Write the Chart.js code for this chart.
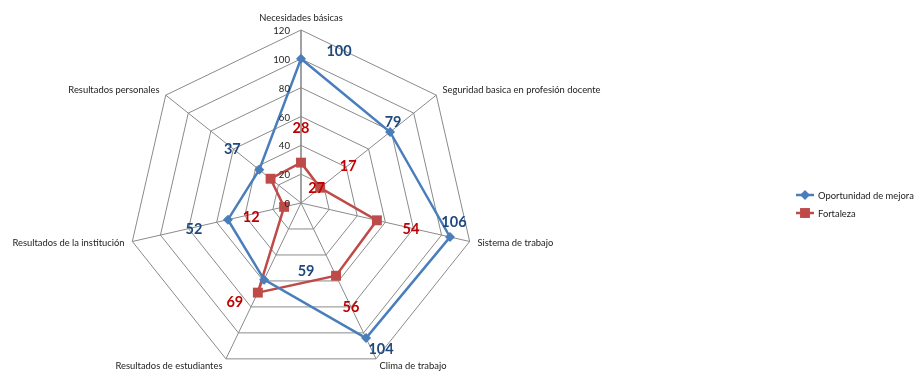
<!DOCTYPE html>
<html>
<head>
<meta charset="utf-8">
<script src="https://cdn.jsdelivr.net/npm/chart.js@4.4.1/dist/chart.umd.min.js"></script>
<style>
  html, body { margin: 0; padding: 0; background: #fff; overflow: hidden; width: 919px; height: 375px; }
  canvas { display: block; }
</style>
</head>
<body>
<canvas id="chart" width="919" height="420"></canvas>
<script>
const categories = ['Necesidades básicas', 'Seguridad basica en profesión docente', 'Sistema de trabajo',
    'Clima de trabajo', 'Resultados de estudiantes', 'Resultados de la institución', 'Resultados personales'];
const oportunidad = [100, 79, 106, 104, 59, 52, 37];
const fortaleza = [28, 17, 54, 56, 69, 12, 27];
const tickValues = [0, 20, 40, 60, 80, 100, 120];
const seriesNames = ['Oportunidad de mejora', 'Fortaleza'];

const FONT = 'Lato, "Open Sans", sans-serif';
const BLUE = '#4A7EBB';
const RED = '#BE4B48';

// where Excel put each data label, relative to its point
const labelShift = [
    [[38, -8], [3, -10], [4, -15], [15, 11], [42, -8], [-34, 10], [-27, -20]],
    [[0, -34], [28, -21], [34, 9], [15, 32], [-23, 10], [-33, 10], [46, 10]]
];
const labelColor = ['#1F497D', '#C00000'];

// Draws axis texts, value labels and the legend
const textPlugin = {
    id: 'texts',
    afterDatasetsDraw(chart) {
        const ctx = chart.ctx;
        const r = chart.scales.r;
        ctx.save();

        // value ticks along the first axis
        ctx.font = '9.6px ' + FONT;
        ctx.fillStyle = '#222';
        ctx.textAlign = 'right';
        ctx.textBaseline = 'middle';
        r.ticks.forEach(t => {
            const p = r.getPointPositionForValue(0, t.value);
            ctx.fillText(String(t.value), p.x - 11, p.y + 1);
        });

        // category labels
        ctx.font = '9.4px ' + FONT;
        categories.forEach((label, i) => {
            const p = r.getPointPosition(i, r.drawingArea + 8);
            ctx.textAlign = p.x > r.xCenter + 1 ? 'left' : (p.x < r.xCenter - 1 ? 'right' : 'center');
            ctx.textBaseline = i === 0 ? 'bottom' : 'middle';
            ctx.fillText(label, p.x, i === 0 ? p.y + 1 : p.y);
        });

        // data labels
        ctx.font = 'bold 14.5px ' + FONT;
        ctx.textAlign = 'center';
        ctx.textBaseline = 'middle';
        chart.data.datasets.forEach((ds, d) => {
            const meta = chart.getDatasetMeta(d);
            ctx.fillStyle = labelColor[d];
            meta.data.forEach((pt, i) => {
                const s = labelShift[d][i];
                ctx.fillText(String(ds.data[i]), pt.x + s[0], pt.y + s[1]);
            });
        });

        // legend
        ctx.font = '9.4px ' + FONT;
        ctx.textAlign = 'left';
        chart.data.datasets.forEach((ds, d) => {
            const y = 195 + d * 18;
            ctx.strokeStyle = ds.borderColor;
            ctx.lineWidth = 2.5;
            ctx.beginPath();
            ctx.moveTo(796, y);
            ctx.lineTo(814, y);
            ctx.stroke();
            ctx.fillStyle = ds.borderColor;
            Chart.helpers.drawPoint(ctx, { pointStyle: ds.pointStyle, radius: ds.pointRadius, borderWidth: 0 }, 805, y);
            ctx.fillStyle = '#222';
            ctx.fillText(ds.label, 818, y + 1);
        });
        ctx.restore();
    }
};

new Chart(document.getElementById('chart'), {
    type: 'radar',
    data: {
        labels: categories,
        datasets: [{
            label: seriesNames[0],
            data: oportunidad,
            borderColor: BLUE,
            backgroundColor: BLUE,
            borderWidth: 2.5,
            fill: false,
            pointStyle: 'rectRot',
            pointRadius: 5,
            pointBackgroundColor: BLUE,
            pointBorderColor: BLUE,
            pointBorderWidth: 0
        }, {
            label: seriesNames[1],
            data: fortaleza,
            borderColor: RED,
            backgroundColor: RED,
            borderWidth: 2.5,
            fill: false,
            pointStyle: 'rect',
            pointRadius: 7,
            pointBackgroundColor: RED,
            pointBorderColor: RED,
            pointBorderWidth: 0
        }]
    },
    options: {
        responsive: false,
        animation: false,
        layout: { padding: { left: 128, right: 445, top: 30, bottom: 44 } },
        plugins: {
            legend: { display: false },
            title: { display: false },
            tooltip: { enabled: false }
        },
        elements: { line: { tension: 0 } },
        scales: {
            r: {
                min: 0,
                max: 120,
                afterBuildTicks: (scale) => {
                    scale.ticks = tickValues.map(v => ({ value: v }));
                },
                ticks: { display: false },
                grid: { color: '#8A8A8A', lineWidth: 1 },
                angleLines: {
                    color: '#8A8A8A',
                    lineWidth: (c) => c.index === 0 ? 1.6 : 1
                },
                pointLabels: { display: false }
            }
        }
    },
    plugins: [textPlugin]
});
</script>
</body>
</html>
